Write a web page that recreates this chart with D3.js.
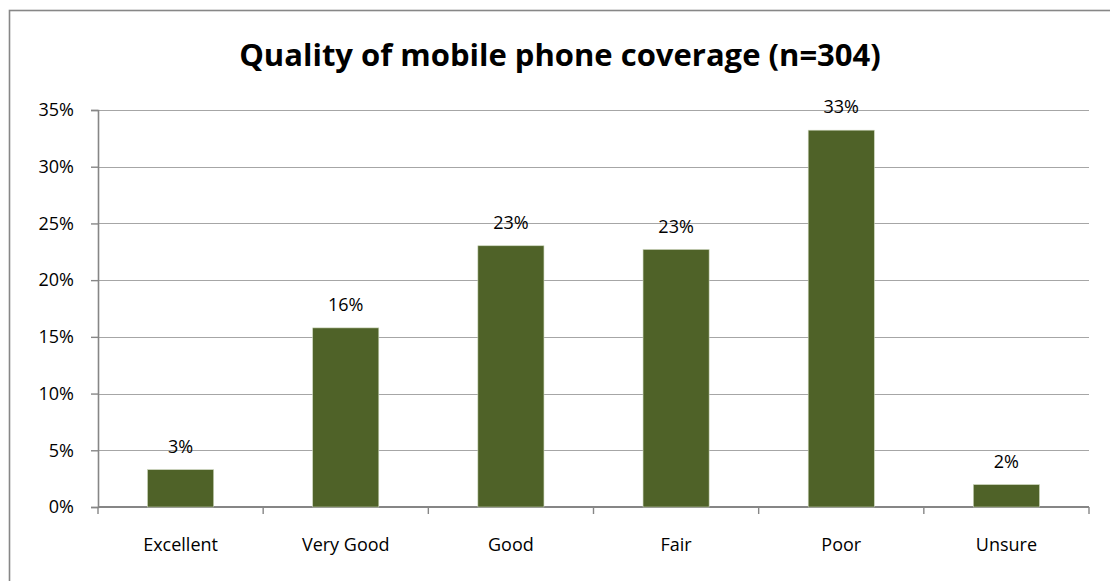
<!DOCTYPE html>
<html>
<head>
<meta charset="utf-8">
<script src="https://cdn.jsdelivr.net/npm/d3@7"></script>
<style>
  html, body { margin: 0; padding: 0; background: #fff; }
  svg { display: block; }
  text { font-family: "Open Sans", "Noto Sans", sans-serif; fill: #000; }
</style>
</head>
<body>
<svg id="chart" width="1110" height="581"></svg>
<script>
// Survey responses: quality of mobile phone coverage, share of respondents (%)
const chartTitle = "Quality of mobile phone coverage (n=304)";
const categories = ["Excellent", "Very Good", "Good", "Fair", "Poor", "Unsure"];
const shares = [3.29, 15.79, 23.03, 22.70, 33.22, 1.97];
const shareLabels = ["3%", "16%", "23%", "23%", "33%", "2%"];
const yTicks = [0, 5, 10, 15, 20, 25, 30, 35];

const svg = d3.select("#chart");
const W = 1110, H = 581;
const plot = { left: 98, right: 1089, top: 110, bottom: 507 };

// chart frame (open to the right and bottom edges)
svg.append("rect")
  .attr("x", 9.5).attr("y", 10.5)
  .attr("width", W + 20).attr("height", H + 20)
  .attr("fill", "none")
  .attr("stroke", "#878787")
  .attr("stroke-width", 1.6);

svg.append("text")
  .attr("x", 560).attr("y", 66)
  .attr("text-anchor", "middle")
  .style("font-size", "31px")
  .style("font-weight", "700")
  .text(chartTitle);

const x = d3.scaleBand()
  .domain(categories)
  .range([plot.left, plot.right])
  .paddingInner(0.6)
  .paddingOuter(0.3);

const y = d3.scaleLinear()
  .domain([0, 35])
  .range([plot.bottom, plot.top]);

// horizontal gridlines
svg.append("g")
  .selectAll("line")
  .data(yTicks.filter(d => d > 0))
  .join("line")
  .attr("x1", plot.left).attr("x2", plot.right)
  .attr("y1", d => Math.round(y(d)) + 0.5)
  .attr("y2", d => Math.round(y(d)) + 0.5)
  .attr("stroke", "#a6a6a6")
  .attr("stroke-width", 1.2);

// y axis
const yAxis = svg.append("g")
  .attr("transform", `translate(${plot.left},0)`)
  .call(d3.axisLeft(y).tickValues(yTicks).tickSize(7).tickPadding(17)
    .tickFormat(d => d + "%"));
yAxis.select(".domain").attr("stroke", "#868686").attr("stroke-width", 1.6);
yAxis.selectAll(".tick line").attr("stroke", "#868686").attr("stroke-width", 1.4);
yAxis.selectAll(".tick text")
  .style("font-size", "18px")
  .style("font-family", "'Open Sans', sans-serif")
  .attr("fill", "#000");

// x axis with ticks at category boundaries
const xAxisG = svg.append("g")
  .attr("transform", `translate(0,${plot.bottom})`);
xAxisG.append("line")
  .attr("x1", plot.left).attr("x2", plot.right)
  .attr("y1", 0).attr("y2", 0)
  .attr("stroke", "#868686").attr("stroke-width", 1.8);
const boundaries = d3.range(categories.length + 1)
  .map(i => plot.left + (plot.right - plot.left) * i / categories.length);
xAxisG.selectAll("line.tick")
  .data(boundaries)
  .join("line")
  .attr("class", "tick")
  .attr("x1", d => d).attr("x2", d => d)
  .attr("y1", 0).attr("y2", 7)
  .attr("stroke", "#868686").attr("stroke-width", 1.4);
xAxisG.selectAll("text")
  .data(categories)
  .join("text")
  .attr("x", d => x(d) + x.bandwidth() / 2)
  .attr("y", 44)
  .attr("text-anchor", "middle")
  .style("font-size", "18px")
  .text(d => d);

// bars
svg.append("g")
  .selectAll("rect")
  .data(categories)
  .join("rect")
  .attr("x", d => x(d))
  .attr("width", x.bandwidth())
  .attr("y", (d, i) => y(shares[i]))
  .attr("height", (d, i) => plot.bottom - y(shares[i]))
  .attr("fill", "#4f6228")
  .attr("stroke", "#c9d3b8")
  .attr("stroke-width", 0.6);

// value labels above bars
svg.append("g")
  .selectAll("text")
  .data(categories)
  .join("text")
  .attr("x", d => x(d) + x.bandwidth() / 2)
  .attr("y", (d, i) => y(shares[i]) - 17)
  .attr("text-anchor", "middle")
  .style("font-size", "18px")
  .text((d, i) => shareLabels[i]);
</script>
</body>
</html>
